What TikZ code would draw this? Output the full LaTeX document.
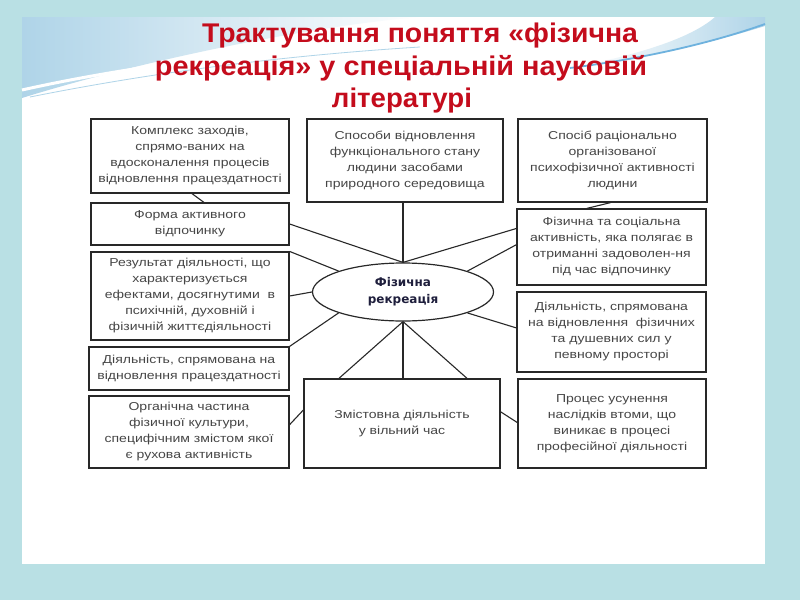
\documentclass[tikz,border=0pt]{standalone}
\usepackage{fontspec}
\setmainfont{Liberation Sans}
\newfontfamily\boxfont[FakeStretch=1.22]{Liberation Sans}
\newfontfamily\titlefont{Liberation Sans}
\newfontfamily\ellfont{DejaVu Sans}
\usetikzlibrary{calc,shapes.geometric,shadows}
\definecolor{bgteal}{RGB}{185,224,228}
\definecolor{titlered}{RGB}{196,12,28}
\definecolor{boxline}{RGB}{40,40,40}
\definecolor{boxtext}{RGB}{70,70,70}
\definecolor{swoosh}{RGB}{175,212,232}
\definecolor{swooshdark}{RGB}{110,178,222}
\definecolor{elltext}{RGB}{30,30,60}
\begin{document}
\begin{tikzpicture}[x=1pt,y=-1pt,
  box/.style={draw=boxline, line width=1.2pt, fill=white, rectangle, inner sep=0pt,
    align=center, font=\boxfont\fontsize{11.5}{16}\selectfont, text=boxtext,
    general shadow={fill=black!30, shadow xshift=1pt, shadow yshift=-1pt}},
  conn/.style={draw=boxline, line width=1.1pt},
  ttl/.style={font=\titlefont\bfseries\fontsize{27}{30}\selectfont, text=titlered, inner sep=0pt, anchor=base}]
% background
\fill[bgteal] (0,0) rectangle (800,600);
\useasboundingbox (0,0) rectangle (800,600);
\fill[white] (22,17) rectangle (765,564);
% swooshes
\shade[left color=swoosh, right color=white, draw=none] (22,17) -- (420,17) .. controls (330,24) and (160,55) .. (22,98) -- cycle;
\draw[white, line width=3pt] (22,90) .. controls (120,68) and (260,48) .. (430,40);
\draw[swoosh, line width=0.8pt] (30,97) .. controls (130,77) and (260,57) .. (420,47);
\shade[left color=white, right color=swoosh, draw=none] (580,66) .. controls (660,55) and (720,40) .. (765,26) -- (765,17) -- (715,17) .. controls (695,35) and (650,52) .. (580,66) -- cycle;
\draw[swooshdark, line width=1.8pt] (570,68) .. controls (655,57) and (720,40) .. (765,24);
% title
\node[ttl] (t1) at (420,42) {\resizebox{436pt}{\height}{Трактування поняття «фізична}};
\node[ttl] (t2) at (401,75) {\resizebox{492pt}{\height}{рекреація» у спеціальній науковій}};
\node[ttl] (t3) at (402,107) {\resizebox{140pt}{\height}{літературі}};
% boxes
\node[box, minimum width=198pt, minimum height=74pt] (b1) at (190,156)
  {Комплекс заходів,\\спрямо-ваних на\\вдосконалення процесів\\відновлення працездатності};
\node[box, minimum width=196pt, minimum height=83pt] (b2) at (405,160.5)
  {Способи відновлення\\функціонального стану\\людини засобами\\природного середовища};
\node[box, minimum width=189pt, minimum height=83pt] (b3) at (612.5,160.5)
  {Спосіб раціонально\\організованої\\психофізичної активності\\людини};
\node[box, minimum width=198pt, minimum height=42pt] (b4) at (190,224)
  {Форма активного\\відпочинку};
\node[box, minimum width=198pt, minimum height=88pt] (b5) at (190,296)
  {Результат діяльності, що\\характеризується\\ефектами, досягнутими\ \ в\\психічній, духовній і\\фізичній життєдіяльності};
\node[box, minimum width=189pt, minimum height=76pt] (b6) at (611.5,247)
  {Фізична та соціальна\\активність, яка полягає в\\отриманні задоволен-ня\\під час відпочинку};
\node[box, minimum width=189pt, minimum height=80pt] (b7) at (611.5,332)
  {Діяльність, спрямована\\на відновлення\ \ фізичних\\та душевних сил у\\певному просторі};
\node[box, minimum width=200pt, minimum height=43pt] (b8) at (189,368.5)
  {Діяльність, спрямована на\\відновлення працездатності};
\node[box, minimum width=200pt, minimum height=72pt] (b9) at (189,432)
  {Органічна частина\\фізичної культури,\\специфічним змістом якої\\є рухова активність};
\node[box, minimum width=196pt, minimum height=89pt] (b10) at (402,423.5)
  {Змістовна діяльність\\у вільний час};
\node[box, minimum width=188pt, minimum height=89pt] (b11) at (612,423.5)
  {Процес усунення\\наслідків втоми, що\\виникає в процесі\\професійної діяльності};
% ellipse
\node[ellipse, draw=boxline, line width=1.2pt, fill=white, minimum width=181pt, minimum height=58pt,
  inner sep=0pt, align=center, font=\ellfont\bfseries\fontsize{12}{17}\selectfont, text=elltext] (ell) at (403,292)
  {Фізична\\рекреація};
% connectors
\draw[conn] (ell.north) -- (ell.north |- b2.south);
\draw[conn] (b4.east) -- (ell.north);
\draw[conn] (b5.north east) -- (ell.162);
\draw[conn] (b5.east) -- (ell.west);
\draw[conn] (b8.north east) -- (ell.198);
\draw[conn] (ell.south) -- (ell.south |- b10.north);
\draw[conn] (ell.south) -- ($(b10.north west)!0.18!(b10.north east)$);
\draw[conn] (ell.south) -- ($(b10.north west)!0.83!(b10.north east)$);
\draw[conn] (ell.north) -- ($(b6.north west)!0.26!(b6.south west)$);
\draw[conn] (ell.18) -- ($(b6.north west)!0.47!(b6.south west)$);
\draw[conn] (ell.-18) -- ($(b7.north west)!0.45!(b7.south west)$);
\draw[conn] ($(b9.north east)!0.4!(b9.south east)$) -- ($(b10.north west)!0.35!(b10.south west)$);
\draw[conn] ($(b10.north east)!0.37!(b10.south east)$) -- ($(b11.north west)!0.49!(b11.south west)$);
\draw[conn] ($(b1.south west)!0.51!(b1.south east)$) -- ($(b4.north west)!0.57!(b4.north east)$);
\draw[conn] ($(b3.south west)!0.49!(b3.south east)$) -- ($(b6.north west)!0.37!(b6.north east)$);
\end{tikzpicture}
\end{document}
